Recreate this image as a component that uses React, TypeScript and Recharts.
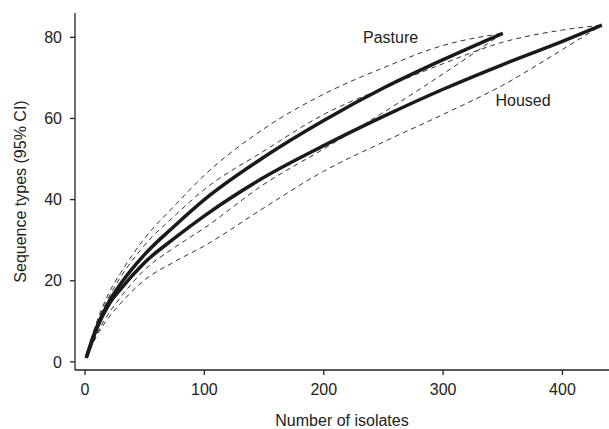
import {
  LineChart,
  Line,
  XAxis,
  YAxis,
  ReferenceDot,
} from "recharts";

const isolates = [1, 5, 10, 20, 30, 50, 75, 100, 150, 200, 250, 300, 350, 400, 433];

const pasture = [1, 4.7, 8.7, 14.8, 19.3, 26.5, 33.5, 40, 50.5, 59.5, 67.5, 74.5, 81, null, null];
const pastureUpper = [1, 5.5, 10, 17, 22, 30.5, 38.5, 46, 57.5, 66, 72.5, 78, 81, null, null];
const pastureLower = [1, 3.8, 7, 12, 16, 22.7, 28.2, 33, 43.8, 52.5, 61.5, 71, 81, null, null];

const housed = [1, 4.3, 8.3, 14.2, 18, 24.5, 30.5, 36, 45.5, 53.3, 60.5, 67.2, 73.3, 79, 83];
const housedUpper = [1, 5.2, 9.5, 16, 21, 28.8, 36, 42.5, 52, 61, 67.5, 73.5, 78.8, 81.8, 83];
const housedLower = [1, 3.5, 6.5, 11, 14.5, 20.2, 24.7, 28.6, 38, 47, 54.2, 61, 68.2, 77, 83];

const xTicks = [0, 100, 200, 300, 400];
const yTicks = [0, 20, 40, 60, 80];

const data = isolates.map((n, i) => ({
  n,
  pasture: pasture[i],
  pastureUpper: pastureUpper[i],
  pastureLower: pastureLower[i],
  housed: housed[i],
  housedUpper: housedUpper[i],
  housedLower: housedLower[i],
}));

const font = "'Liberation Sans', Arial, sans-serif";
const ink = "#222";

export default function App() {
  return (
    <div
      style={{
        position: "absolute",
        left: 0,
        top: 0,
        width: 609,
        height: 429,
        background: "#fff",
        fontFamily: font,
      }}
    >
      <LineChart
        width={609}
        height={429}
        data={data}
        margin={{ top: 13, right: 0, left: 0, bottom: 0 }}
      >
        <XAxis
          dataKey="n"
          type="number"
          domain={[-8.4, 439]}
          ticks={xTicks}
          height={59}
          tickSize={5}
          tickMargin={9}
          stroke={ink}
          strokeWidth={1.3}
          tick={{ fill: ink, fontSize: 16, fontFamily: font }}
          label={{
            value: "Number of isolates",
            position: "insideBottom",
            offset: 3,
            fill: ink,
            fontSize: 16,
            fontFamily: font,
          }}
        />
        <YAxis
          type="number"
          domain={[-2, 86]}
          ticks={yTicks}
          width={75}
          tickSize={5}
          tickMargin={8}
          stroke={ink}
          strokeWidth={1.3}
          tick={{ fill: ink, fontSize: 16, fontFamily: font }}
          label={{
            value: "Sequence types (95% CI)",
            angle: -90,
            position: "center",
            dx: -17,
            fill: ink,
            fontSize: 16,
            fontFamily: font,
          }}
        />

        <Line type="monotone" dataKey="pastureUpper" stroke="#333" strokeWidth={1} strokeDasharray="5 4" dot={false} isAnimationActive={false} />
        <Line type="monotone" dataKey="pastureLower" stroke="#333" strokeWidth={1} strokeDasharray="5 4" dot={false} isAnimationActive={false} />
        <Line type="monotone" dataKey="housedUpper" stroke="#333" strokeWidth={1} strokeDasharray="5 4" dot={false} isAnimationActive={false} />
        <Line type="monotone" dataKey="housedLower" stroke="#333" strokeWidth={1} strokeDasharray="5 4" dot={false} isAnimationActive={false} />

        <Line type="monotone" dataKey="pasture" stroke="#1a1a1a" strokeWidth={3.5} dot={false} isAnimationActive={false} />
        <Line type="monotone" dataKey="housed" stroke="#1a1a1a" strokeWidth={3.5} dot={false} isAnimationActive={false} />

        <ReferenceDot
          x={256}
          y={80}
          r={0}
          stroke="none"
          label={{ value: "Pasture", position: "center", fill: ink, fontSize: 16, fontFamily: font }}
        />
        <ReferenceDot
          x={367}
          y={64.5}
          r={0}
          stroke="none"
          label={{ value: "Housed", position: "center", fill: ink, fontSize: 16, fontFamily: font }}
        />
      </LineChart>
    </div>
  );
}
